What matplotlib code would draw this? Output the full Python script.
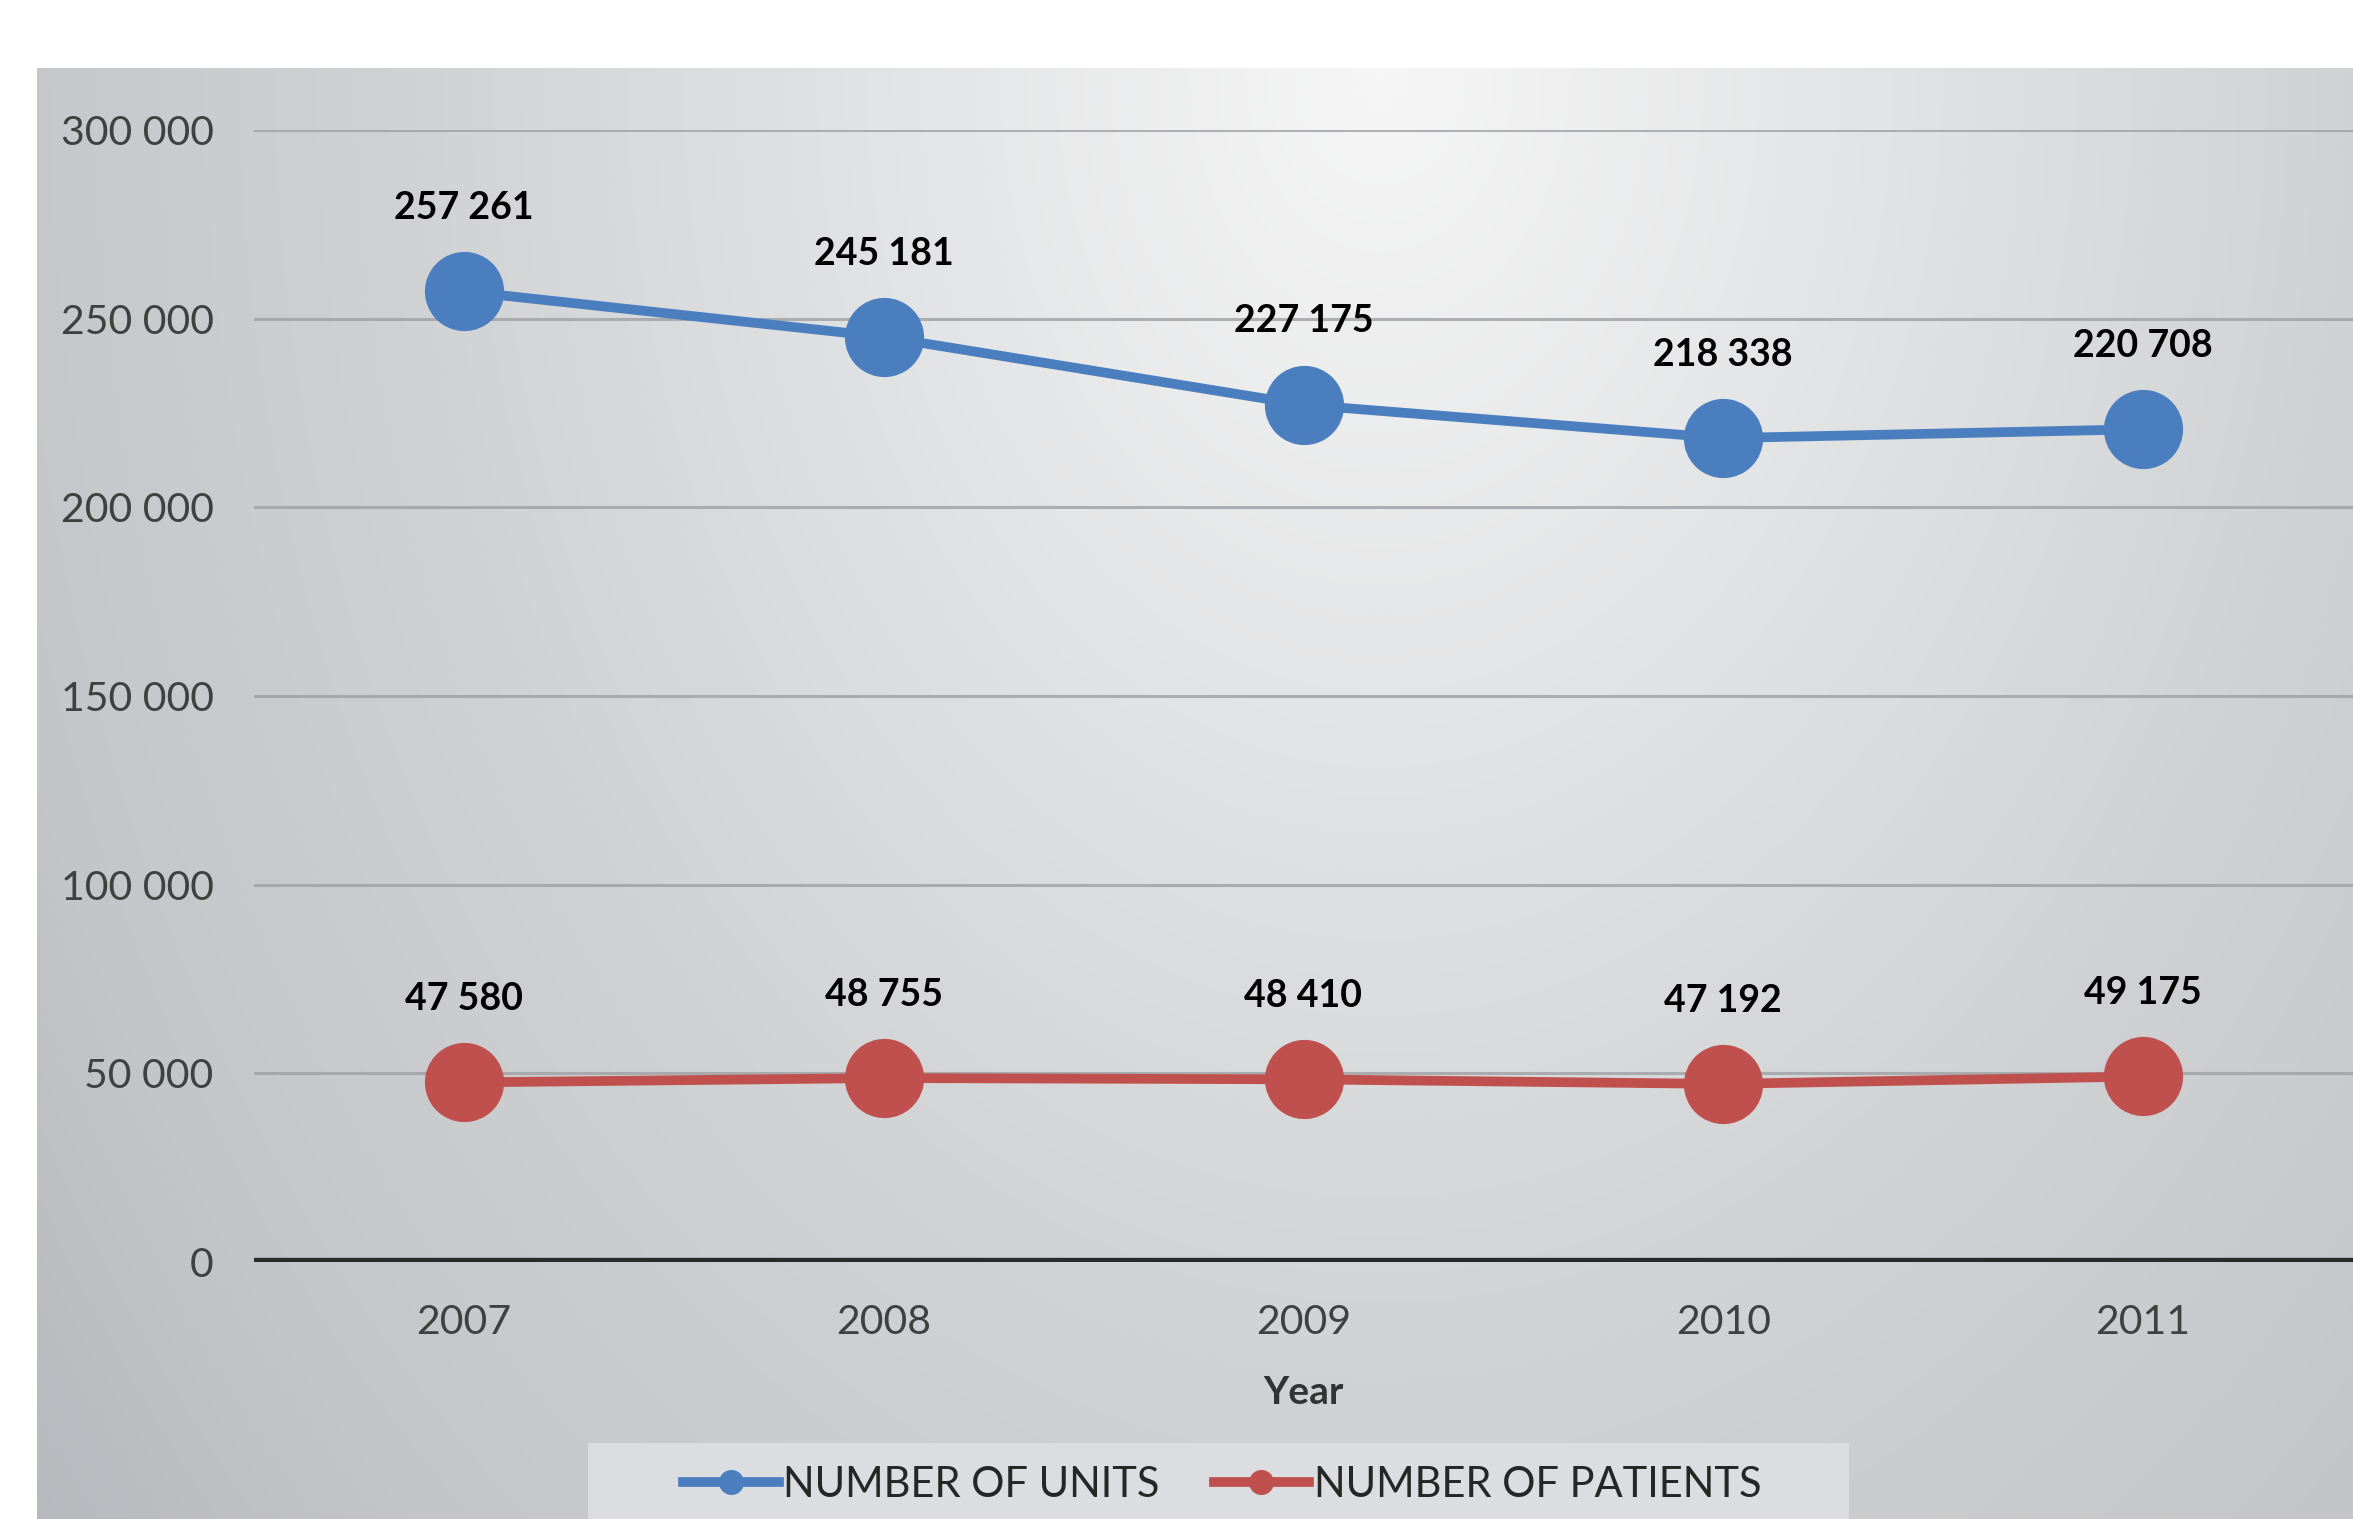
import numpy as np
import matplotlib.pyplot as plt
from matplotlib.colors import LinearSegmentedColormap
from matplotlib.patches import Rectangle
from matplotlib.lines import Line2D

plt.rcParams['font.family'] = ['Lato', 'DejaVu Sans']

years = ['2007', '2008', '2009', '2010', '2011']
units = [257261, 245181, 227175, 218338, 220708]
patients = [47580, 48755, 48410, 47192, 49175]
y_ticks = [0, 50000, 100000, 150000, 200000, 250000, 300000]

blue = '#4a7ebf'
red = '#c0504d'


def fmt(v):
    return f"{v:,}".replace(',', ' ')


fig = plt.figure(figsize=(23.53, 15.19), dpi=100)

# shaded panel behind the chart
bg = fig.add_axes([37 / 2353, 0, 1 - 37 / 2353, 1 - 68 / 1519])
bg.set_axis_off()
gx, gy = np.meshgrid(np.linspace(0, 1, 400), np.linspace(0, 1, 300))
d = np.sqrt(((gx - 0.58) / 0.6) ** 2 + ((gy - 0.0) / 1.3) ** 2)
shade = LinearSegmentedColormap.from_list(
    'shade', [(0, '#f6f6f6'), (0.55, '#cfd1d3'), (0.8, '#c3c5c8'), (1.0, '#b3b6ba')])
bg.imshow(np.clip(d / 1.3, 0, 1), cmap=shade, vmin=0, vmax=1,
          extent=[0, 1, 1, 0], aspect='auto', interpolation='bilinear')
bg.set_xlim(0, 1)
bg.set_ylim(1, 0)

ax = fig.add_axes([254 / 2353, 1 - 1262 / 1519, 1 - 254 / 2353, (1262 - 130) / 1519])
ax.patch.set_alpha(0)
x = np.arange(len(years))
ax.set_xlim(-0.5, len(years) - 0.5)
ax.set_ylim(0, 300000)

for t in y_ticks[1:]:
    ax.axhline(t, color='#9ea0a3', lw=2.2, alpha=0.8, zorder=1)
ax.axhline(0, color='#2a2a2a', lw=6, zorder=2)

ax.plot(x, units, color=blue, lw=7, marker='o', ms=56, zorder=3)
ax.plot(x, patients, color=red, lw=7, marker='o', ms=56, zorder=3)

for xi, v in zip(x, units):
    ax.annotate(fmt(v), (xi, v), xytext=(0, 60), textcoords='offset points',
                ha='center', va='center', fontsize=27, fontweight='bold', color='black')
for xi, v in zip(x, patients):
    ax.annotate(fmt(v), (xi, v), xytext=(0, 60), textcoords='offset points',
                ha='center', va='center', fontsize=27, fontweight='bold', color='black')

ax.set_xticks(x)
ax.set_xticklabels(years)
ax.set_yticks(y_ticks)
ax.set_yticklabels([fmt(t) for t in y_ticks])
ax.tick_params(axis='both', length=0, labelsize=29.5, labelcolor='#404040')
ax.tick_params(axis='x', pad=30)
ax.tick_params(axis='y', pad=29)
for s in ax.spines.values():
    s.set_visible(False)

ax.text(0.5, -0.1157, 'Year', transform=ax.transAxes, ha='center', va='center',
        fontsize=28, fontweight='bold', color='#333333')

# legend box, running off the bottom edge
fig.patches.append(Rectangle((588 / 2353, 0), (1849 - 588) / 2353, 1 - 1443 / 1519,
                             transform=fig.transFigure, facecolor='#dcdde0',
                             edgecolor='none', zorder=1))
handles = [Line2D([], [], color=blue, lw=7, marker='o', ms=17),
           Line2D([], [], color=red, lw=7, marker='o', ms=17)]
fig.legend(handles, ['NUMBER OF UNITS', 'NUMBER OF PATIENTS'], loc='center',
           bbox_to_anchor=(1222 / 2353, 1 - 1485 / 1519), ncol=2, frameon=False,
           fontsize=30, handlelength=2.3, handletextpad=0.1, columnspacing=1.3,
           labelcolor='#262626')

fig.savefig('out.png', dpi=100)
